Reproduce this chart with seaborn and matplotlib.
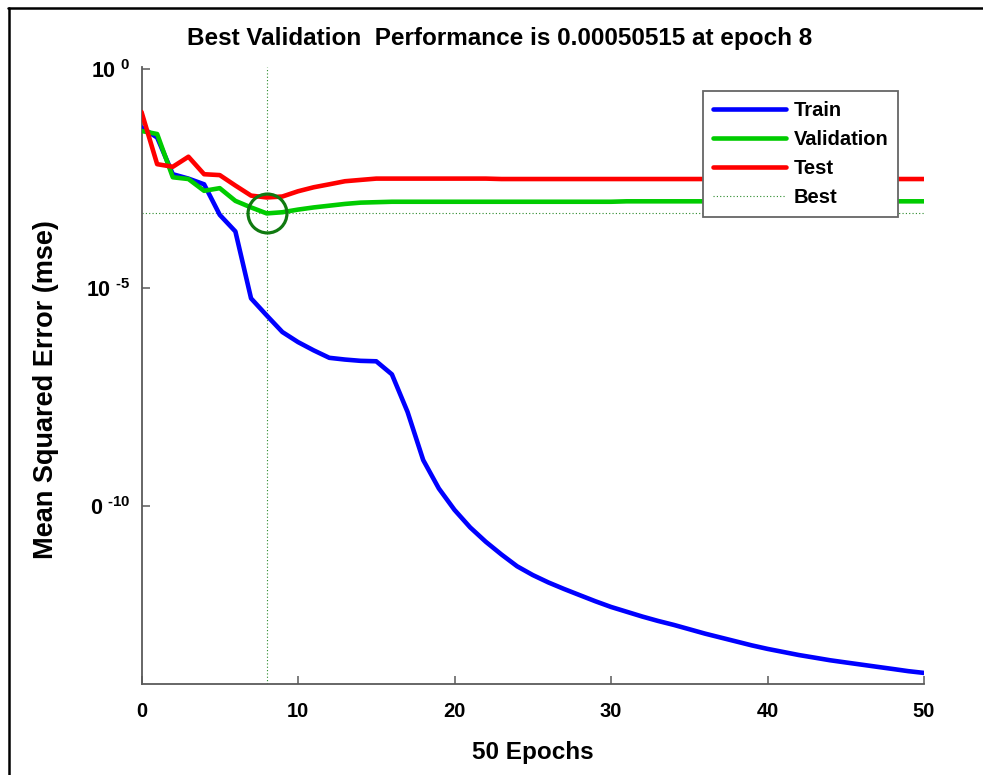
import numpy as np
import pandas as pd
import matplotlib
matplotlib.use("Agg")
import matplotlib.pyplot as plt
import seaborn as sns
from matplotlib.lines import Line2D

# ---------------- data ----------------
epochs = list(range(0, 51))

train = [4.68e-2, 2.75e-2, 3.98e-3, 3.16e-3, 2.34e-3, 4.68e-4, 1.95e-4, 5.75e-6, 2.34e-6, 9.77e-7,
         5.75e-7, 3.72e-7, 2.51e-7, 2.29e-7, 2.14e-7, 2.09e-7, 1.05e-7, 1.45e-8, 1.15e-9, 2.57e-10,
         8.32e-11, 3.31e-11, 1.55e-11, 7.94e-12, 4.27e-12, 2.69e-12, 1.82e-12, 1.29e-12, 9.33e-13, 6.76e-13,
         5.01e-13, 3.89e-13, 3.02e-13, 2.40e-13, 1.95e-13, 1.55e-13, 1.23e-13, 1.00e-13, 8.13e-14, 6.61e-14,
         5.50e-14, 4.68e-14, 3.98e-14, 3.47e-14, 3.02e-14, 2.69e-14, 2.40e-14, 2.14e-14, 1.91e-14, 1.70e-14,
         1.55e-14]

validation = [3.89e-2, 3.31e-2, 3.39e-3, 3.09e-3, 1.66e-3, 1.91e-3, 9.77e-4, 6.92e-4, 5.0515e-4, 5.37e-4,
              6.17e-4, 6.92e-4, 7.59e-4, 8.32e-4, 8.91e-4, 9.12e-4, 9.33e-4, 9.33e-4, 9.33e-4, 9.33e-4,
              9.33e-4, 9.33e-4, 9.33e-4, 9.33e-4, 9.33e-4, 9.33e-4, 9.33e-4, 9.33e-4, 9.33e-4, 9.33e-4,
              9.33e-4, 9.55e-4, 9.55e-4, 9.55e-4, 9.55e-4, 9.55e-4, 9.55e-4, 9.55e-4, 9.55e-4, 9.55e-4,
              9.55e-4, 9.55e-4, 9.55e-4, 9.55e-4, 9.55e-4, 9.55e-4, 9.55e-4, 9.55e-4, 9.55e-4, 9.55e-4,
              9.55e-4]

test = [1.06e-1, 6.76e-3, 5.89e-3, 1.00e-2, 3.98e-3, 3.80e-3, 2.19e-3, 1.29e-3, 1.17e-3, 1.23e-3,
        1.62e-3, 2.00e-3, 2.34e-3, 2.75e-3, 2.95e-3, 3.16e-3, 3.16e-3, 3.16e-3, 3.16e-3, 3.16e-3,
        3.16e-3, 3.16e-3, 3.16e-3, 3.09e-3, 3.09e-3, 3.09e-3, 3.09e-3, 3.09e-3, 3.09e-3, 3.09e-3,
        3.09e-3, 3.09e-3, 3.09e-3, 3.09e-3, 3.09e-3, 3.09e-3, 3.09e-3, 3.09e-3, 3.09e-3, 3.09e-3,
        3.09e-3, 3.09e-3, 3.09e-3, 3.09e-3, 3.09e-3, 3.09e-3, 3.09e-3, 3.09e-3, 3.09e-3, 3.09e-3,
        3.09e-3]

best_epoch = 8
best_perf = 0.00050515

series_names = ["Train", "Validation", "Test"]
series_colors = ["#0000ff", "#00cc00", "#ff0000"]

xticks = [0, 10, 20, 30, 40, 50]
yticks = [1e0, 1e-5, 1e-10]
ytick_labels = [r"$\mathbf{10^{\ 0}}$", r"$\mathbf{10^{\ \text{-}5}}$", r"$\mathbf{0^{\ \text{-}10}}$"]

title = "Best Validation  Performance is 0.00050515 at epoch 8"
xlabel = "50 Epochs"
ylabel = "Mean Squared Error (mse)"

# ---------------- style ----------------
sns.set_theme(style="white")
plt.rcParams["font.family"] = ["Liberation Sans", "DejaVu Sans"]
plt.rcParams["font.weight"] = "bold"
plt.rcParams["text.color"] = "black"
plt.rcParams["axes.labelcolor"] = "black"
plt.rcParams["mathtext.fontset"] = "custom"
plt.rcParams["mathtext.rm"] = "Liberation Sans:bold"
plt.rcParams["mathtext.bf"] = "Liberation Sans:bold"

df = pd.DataFrame({
    "epoch": epochs * 3,
    "mse": train + validation + test,
    "set": ["Train"] * len(epochs) + ["Validation"] * len(epochs) + ["Test"] * len(epochs),
})

fig = plt.figure(figsize=(9.83, 7.75), dpi=100)
ax = fig.add_axes([141.5 / 983, 1 - 684.3 / 775, (924 - 141.5) / 983, (684.3 - 67) / 775])

sns.lineplot(data=df, x="epoch", y="mse", hue="set", hue_order=series_names,
             palette=dict(zip(series_names, series_colors)), linewidth=3.3,
             ax=ax, legend=False, zorder=3)

ax.set_yscale("log")
ax.set_xlim(0, 50)
ax.set_ylim(10 ** -14.07, 10 ** 0.053)

# best markers
ax.axvline(best_epoch, color="#2a8a2a", linestyle=(0, (1, 2)), linewidth=0.8, zorder=1)
ax.axhline(best_perf, color="#2a8a2a", linestyle=(0, (1, 2)), linewidth=0.8, zorder=1)
ax.plot([best_epoch], [best_perf], marker="o", markersize=28, markerfacecolor="none",
        markeredgecolor="#107a10", markeredgewidth=2.3, zorder=4)

# axes styling
for s in ["top", "right"]:
    ax.spines[s].set_visible(False)
for s in ["left", "bottom"]:
    ax.spines[s].set_color("#5a5a5a")
    ax.spines[s].set_linewidth(1.3)

ax.set_xticks(xticks)
ax.set_xticklabels([str(t) for t in xticks], fontsize=14.5, fontweight="bold")
ax.set_yticks(yticks)
ax.set_yticklabels(ytick_labels, fontsize=15.5)
ax.yaxis.set_minor_locator(matplotlib.ticker.NullLocator())
ax.tick_params(axis="both", direction="in", length=6, width=1.1, color="#5a5a5a",
               labelcolor="black")
ax.tick_params(axis="x", pad=13)
ax.tick_params(axis="y", pad=8, left=True)
ax.tick_params(axis="x", bottom=True)
ax.grid(False)

ax.set_xlabel(xlabel, fontsize=17.5, fontweight="bold", labelpad=14)
ax.set_ylabel(ylabel, fontsize=19.5, fontweight="bold")
ax.yaxis.set_label_coords(-0.106, 0.477)

fig.text(500 / 983, 1 - 38 / 775, title, ha="center", va="center",
         fontsize=17.5, fontweight="bold")

# legend
handles = [Line2D([], [], color=c, linewidth=3.3) for c in series_colors]
handles.append(Line2D([], [], color="#2a8a2a", linestyle=(0, (1, 2)), linewidth=0.8))
leg = fig.legend(handles, series_names + ["Best"], loc="upper left",
                 bbox_to_anchor=(703 / 983, 1 - 91 / 775),
                 prop={"weight": "bold", "size": 14.5}, frameon=True, fancybox=False,
                 framealpha=1, handlelength=3.6, handletextpad=0.4, labelspacing=0.5,
                 borderpad=0.5, borderaxespad=0)
leg.get_frame().set_edgecolor("#666666")
leg.get_frame().set_linewidth(1.3)
leg.get_frame().set_facecolor("white")

# outer frame (top and left edges)
fig.add_artist(Line2D([9 / 983, 9 / 983], [0, 1 - 8 / 775], transform=fig.transFigure,
                      color="black", linewidth=1.8))
fig.add_artist(Line2D([8 / 983, 1], [1 - 8 / 775, 1 - 8 / 775], transform=fig.transFigure,
                      color="black", linewidth=1.8))

fig.savefig("out.png", dpi=100)
